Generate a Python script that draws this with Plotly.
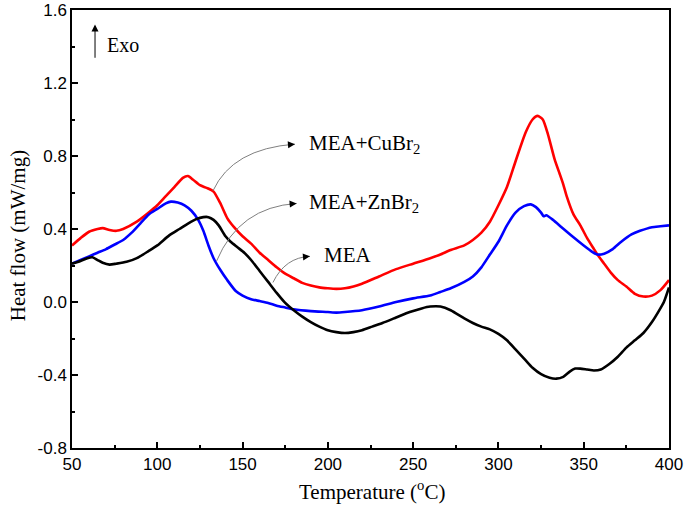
import plotly.graph_objects as go

# ---- data ----
cu_T = [50, 55, 60, 65, 68, 72, 76, 80, 88, 95, 100, 105, 110, 115, 118, 121, 125, 129, 133, 137, 141, 145,
        150, 155, 160, 165, 170, 175, 180, 185, 190, 195, 200, 205, 210, 215, 220, 230, 240, 250, 260, 266,
        272, 280, 285, 290, 295, 300, 305, 310, 316, 320, 323, 326, 329, 333, 336, 338, 340, 344, 348, 352,
        356, 358, 362, 366, 370, 375, 380, 385, 390, 395, 400]
cu_H = [0.31, 0.35, 0.385, 0.40, 0.405, 0.395, 0.39, 0.40, 0.44, 0.49, 0.53, 0.58, 0.63, 0.68, 0.69, 0.67,
        0.64, 0.625, 0.605, 0.54, 0.46, 0.41, 0.36, 0.32, 0.27, 0.23, 0.19, 0.155, 0.13, 0.105, 0.09, 0.08,
        0.075, 0.072, 0.075, 0.085, 0.10, 0.14, 0.18, 0.21, 0.24, 0.26, 0.285, 0.31, 0.34, 0.38, 0.44, 0.53,
        0.63, 0.77, 0.93, 1.00, 1.02, 1.00, 0.92, 0.78, 0.70, 0.645, 0.58, 0.48, 0.42, 0.35, 0.29, 0.26, 0.21,
        0.16, 0.12, 0.085, 0.045, 0.03, 0.035, 0.065, 0.12]

zn_T = [50, 55, 60, 65, 70, 75, 80, 85, 90, 95, 100, 105, 108, 112, 116, 120, 124, 127, 130, 133, 137, 141,
        146, 150, 155, 160, 165, 170, 175, 180, 190, 200, 205, 210, 220, 230, 240, 250, 260, 266, 272, 280,
        285, 290, 295, 300, 305, 310, 315, 319, 322, 325, 326.5, 328, 332, 337, 344, 350, 355, 358, 362, 367,
        372, 378, 383, 390, 395, 400]
zn_H = [0.21, 0.23, 0.25, 0.27, 0.29, 0.315, 0.34, 0.38, 0.43, 0.48, 0.51, 0.54, 0.55, 0.545, 0.53, 0.50,
        0.45, 0.39, 0.31, 0.24, 0.175, 0.12, 0.06, 0.035, 0.015, 0.005, -0.005, -0.02, -0.03, -0.04, -0.05,
        -0.055, -0.058, -0.055, -0.045, -0.025, 0.0, 0.02, 0.035, 0.055, 0.075, 0.11, 0.14, 0.19, 0.26, 0.33,
        0.42, 0.49, 0.525, 0.535, 0.52, 0.49, 0.47, 0.475, 0.45, 0.41, 0.355, 0.31, 0.275, 0.26, 0.265, 0.29,
        0.33, 0.37, 0.39, 0.41, 0.415, 0.42]

mea_T = [50, 55, 59, 62, 65, 68, 72, 76, 82, 88, 95, 100, 107, 113, 118, 123, 127, 130, 133, 136, 140, 143,
         147, 151, 155, 160, 165, 170, 175, 180, 185, 190, 195, 200, 205, 210, 215, 220, 226, 232, 240, 248,
         255, 260, 266, 272, 280, 285, 290, 295, 300, 305, 310, 316, 320, 325, 330, 334, 338, 342, 345, 348,
         352, 356, 360, 365, 370, 375, 380, 385, 390, 394, 397, 400]
mea_H = [0.21, 0.225, 0.24, 0.245, 0.23, 0.215, 0.205, 0.21, 0.22, 0.24, 0.28, 0.31, 0.365, 0.40, 0.43,
         0.455, 0.465, 0.465, 0.45, 0.42, 0.36, 0.33, 0.30, 0.27, 0.23, 0.17, 0.11, 0.05, -0.005, -0.045,
         -0.08, -0.11, -0.135, -0.155, -0.165, -0.17, -0.165, -0.155, -0.135, -0.115, -0.085, -0.055, -0.035,
         -0.025, -0.025, -0.045, -0.09, -0.115, -0.135, -0.15, -0.175, -0.21, -0.26, -0.32, -0.36, -0.395,
         -0.415, -0.42, -0.41, -0.38, -0.365, -0.365, -0.37, -0.375, -0.37, -0.34, -0.30, -0.25, -0.21, -0.17,
         -0.11, -0.05, 0.0, 0.08]

x_ticks = [50, 100, 150, 200, 250, 300, 350, 400]
y_ticks = [-0.8, -0.4, 0.0, 0.4, 0.8, 1.2, 1.6]
y_tick_labels = ["-0.8", "-0.4", "0.0", "0.4", "0.8", "1.2", "1.6"]

series = [
    ("MEA+CuBr<sub>2</sub>", cu_T, cu_H, "#FF0000"),
    ("MEA+ZnBr<sub>2</sub>", zn_T, zn_H, "#0000FF"),
    ("MEA", mea_T, mea_H, "#000000"),
]

fig = go.Figure()
for name, xs, ys, col in series:
    fig.add_trace(go.Scatter(x=xs, y=ys, mode="lines", name=name,
                             line=dict(color=col, width=2.6, shape="spline", smoothing=0.6),
                             showlegend=False, hoverinfo="skip"))

serif = "Liberation Serif, Times New Roman, serif"
sans = "Liberation Sans, Arial, sans-serif"

# curved leader lines (start on curve, control, end at arrow tip)
leaders = [
    ((132.7, 0.61), (144.0, 0.84), (180.7, 0.865), "MEA+CuBr<sub>2</sub>", (188.0, 0.865)),
    ((134.8, 0.225), (148.0, 0.52), (181.7, 0.54), "MEA+ZnBr<sub>2</sub>", (188.0, 0.545)),
    ((167.8, 0.107), (175.0, 0.245), (189.5, 0.25), "MEA", (196.5, 0.258)),
]
shapes = []
annotations = []
for (x0, y0), (cx, cy), (x1, y1), label, (lx, ly) in leaders:
    shapes.append(dict(type="path", xref="x", yref="y",
                       path=f"M {x0},{y0} Q {cx},{cy} {x1},{y1}",
                       line=dict(color="#808080", width=1)))
    annotations.append(dict(x=x1, y=y1, ax=x1 - 5, ay=y1 - 0.004, xref="x", yref="y",
                            axref="x", ayref="y", showarrow=True, arrowhead=2, arrowsize=1.4,
                            arrowwidth=1, arrowcolor="#000000", text=""))
    annotations.append(dict(x=lx, y=ly, xref="x", yref="y", text=label, showarrow=False,
                            xanchor="left", yanchor="middle",
                            font=dict(family=serif, size=21, color="#000000")))

# Exo arrow
annotations.append(dict(x=63.5, y=1.52, ax=63.5, ay=1.33, xref="x", yref="y", axref="x", ayref="y",
                        showarrow=True, arrowhead=2, arrowsize=1.4, arrowwidth=1,
                        arrowcolor="#000000", text=""))
annotations.append(dict(x=69.5, y=1.41, xref="x", yref="y", text="Exo", showarrow=False,
                        xanchor="left", yanchor="middle",
                        font=dict(family=serif, size=20, color="#000000")))

# axis titles
annotations.append(dict(x=0.5025, y=-0.098, xref="paper", yref="paper", showarrow=False,
                        text="Temperature (<sup>o</sup>C)", xanchor="center", yanchor="middle",
                        font=dict(family=serif, size=21, color="#000")))
annotations.append(dict(x=-0.09, y=0.484, xref="paper", yref="paper", showarrow=False,
                        text="Heat flow (mW/mg)", textangle=-90, xanchor="center", yanchor="middle",
                        font=dict(family=serif, size=21, color="#000")))

fig.update_layout(
    width=685, height=512,
    margin=dict(l=72, r=16, t=10, b=64),
    paper_bgcolor="white", plot_bgcolor="white",
    shapes=shapes, annotations=annotations,
    xaxis=dict(range=[50, 400], tickvals=x_ticks, ticks="inside", ticklen=6, tickwidth=1.5,
               tickcolor="#000", showline=True, linecolor="#000", linewidth=1.5, mirror=True,
               showgrid=False, zeroline=False, automargin=False, ticklabeloverflow="allow",
               minor=dict(dtick=25, tick0=25, ticks="inside", ticklen=3.5, tickwidth=1.5, tickcolor="#000"),
               tickfont=dict(family=sans, size=17, color="#000")),
    yaxis=dict(range=[-0.8, 1.6], tickvals=y_ticks, ticktext=y_tick_labels, ticks="inside", ticklen=6,
               tickwidth=1.5, tickcolor="#000", showline=True, linecolor="#000", linewidth=1.5, mirror=True,
               showgrid=False, zeroline=False, automargin=False, ticklabeloverflow="allow",
               minor=dict(dtick=0.2, tick0=0, ticks="inside", ticklen=3.5, tickwidth=1.5, tickcolor="#000"),
               tickfont=dict(family=sans, size=17, color="#000")),
)

fig.write_html("out.html", config={"displayModeBar": False},
               post_script="document.body.style.margin='0';document.body.style.overflow='hidden';")
